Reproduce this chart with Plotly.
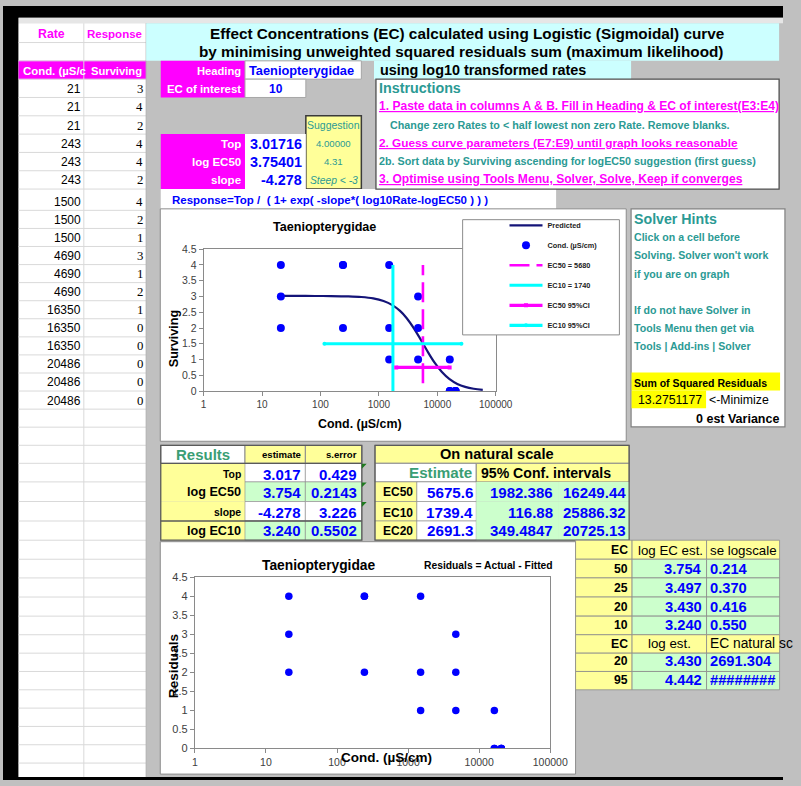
import plotly.graph_objects as go

W, H = 801, 786
SANS = "Liberation Sans, Arial, sans-serif"
SERIF = "Liberation Serif, Times New Roman, serif"

# ---- worksheet data: columns A and B ----
rate = [21, 21, 21, 243, 243, 243, 1500, 1500, 1500,
        4690, 4690, 4690, 16350, 16350, 16350, 20486, 20486, 20486]
surviving = [3, 4, 2, 4, 4, 2, 4, 2, 1, 3, 1, 2, 1, 0, 0, 0, 0, 0]

# ---- fitted logistic curve (Predicted series) ----
pred_rate = [21, 40, 80, 150, 300, 500, 800, 1200, 1700, 2300, 3000, 4000,
             5000, 5676, 7000, 9000, 12000, 16000, 22000, 30000, 42000, 60000]
pred_resp = [3.017, 3.017, 3.016, 3.014, 3.004, 2.984, 2.940, 2.858, 2.727,
             2.542, 2.311, 1.982, 1.685, 1.509, 1.219, 0.900, 0.601, 0.384,
             0.225, 0.131, 0.072, 0.037]

# ---- effect concentration markers ----
ec50_x = [5675.6, 5675.6]
ec50_y = [0.25, 4.0]
ec10_x = [1739.4, 1739.4]
ec10_y = [0, 4]
ec50_ci_x = [1982.386, 16249.44]
ec50_ci_y = [0.75, 0.75]
ec10_ci_x = [116.88, 25886.32]
ec10_ci_y = [1.5, 1.5]

# ---- residual chart series ----
resid_rate = rate
resid_vals = [3, 4, 2, 4, 4, 2, 4, 2, 1, 3, 1, 2, 1, 0, 0, 0, 0, 0]

# ---- tick labels ----
x_tickvals = [1, 10, 100, 1000, 10000, 100000]
x_ticktext = ["1", "10", "100", "1000", "10000", "100000"]
y_tickvals = [0, 0.5, 1, 1.5, 2, 2.5, 3, 3.5, 4, 4.5]
y_ticktext = ["0", "0.5", "1", "1.5", "2", "2.5", "3", "3.5", "4", "4.5"]

# ---- result tables ----
param_labels = ["Top", "log EC50", "slope"]
param_values = ["3.01716", "3.75401", "-4.278"]
suggestions = ["4.00000", "4.31", "Steep &lt; -3"]
res_labels = ["Top", "log EC50", "slope", "log EC10"]
res_est = ["3.017", "3.754", "-4.278", "3.240"]
res_se = ["0.429", "0.2143", "3.226", "0.5502"]
nat_labels = ["EC50", "EC10", "EC20"]
nat_est = ["5675.6", "1739.4", "2691.3"]
nat_lo = ["1982.386", "116.88", "349.4847"]
nat_hi = ["16249.44", "25886.32", "20725.13"]
ec_levels = ["50", "25", "20", "10"]
ec_log_est = ["3.754", "3.497", "3.430", "3.240"]
ec_se_log = ["0.214", "0.370", "0.416", "0.550"]
ec_levels2 = ["20", "95"]
ec_log_est2 = ["3.430", "4.442"]
ec_natural2 = ["2691.304", "########"]

MAGENTA = "#ff00ff"
CYAN = "#00ffff"
BLUE = "#0000ff"
NAVY = "#141478"
TEAL = "#2b9a94"
GREEN_T = "#3a9e74"
LYELLOW = "#ffff99"
LGREEN = "#ccffcc"
LCYAN = "#ccffff"
GRID = "#d9d9d9"
CELL = "#8c8c8c"

shapes = []
annotations = []


def rect(x0, y0, x1, y1, fill, line=None, width=1, layer="below"):
    shapes.append(dict(type="rect", xref="paper", yref="paper",
                       x0=x0 / W, x1=x1 / W, y0=1 - y1 / H, y1=1 - y0 / H,
                       fillcolor=fill,
                       line=dict(color=line if line else "rgba(0,0,0,0)",
                                 width=width if line else 0),
                       layer=layer))


def seg(x0, y0, x1, y1, color, width=1, layer="below"):
    shapes.append(dict(type="line", xref="paper", yref="paper",
                       x0=x0 / W, x1=x1 / W, y0=1 - y0 / H, y1=1 - y1 / H,
                       line=dict(color=color, width=width), layer=layer))


def text(x, y, s, size=12, color="black", anchor="left", bold=False,
         italic=False, family=SANS, underline=False, angle=0):
    if bold:
        s = "<b>" + s + "</b>"
    if italic:
        s = "<i>" + s + "</i>"
    font = dict(family=family, size=size, color=color)
    if underline:
        font["lineposition"] = "under"
    annotations.append(dict(xref="paper", yref="paper", x=x / W, y=1 - y / H,
                            text=s, showarrow=False, xanchor=anchor,
                            yanchor="middle", font=font, textangle=angle))


# ---- sheet frame ----
rect(0, 0, W, 12, "black")
rect(0, 0, 16, H, "black")
rect(0, 783, W, H, "black")
rect(16, 12, W, 17.5, "#e6e6e6")

# row boundaries of the sheet grid
row_y = [18.5, 37.1, 55.7, 74.3, 92.9, 111.5, 130.1, 148.7, 167.3, 185.9,
         207.5, 225.9, 244.2, 262.6, 280.9, 299.3, 317.6, 336.0, 354.3, 372.7,
         391.0, 409.4, 427.7, 446.1, 464.4, 483.3, 503.2, 523.0, 542.5, 561.8,
         580.8, 600.2, 619.6, 638.5, 657.2, 675.8, 694.4, 713.0, 731.6, 750.2,
         768.8, 783]

# columns A & B
rect(16, 17.5, 147, 783, "white")
rect(16, row_y[2], 147, row_y[3], MAGENTA)
for y in row_y[1:-1]:
    seg(16, y, 147, y, GRID)
seg(83, 17.5, 83, 783, GRID)
seg(147, 17.5, 147, 783, "#b0b0b0")

text(49.5, 28.4, "Rate", 12.3, MAGENTA, "center", bold=True)
text(114.5, 28.4, "Response", 11.5, MAGENTA, "center", bold=True)
text(18, 65.6, "Cond. (µS/c", 11.4, "white", "left", bold=True)
text(117, 65.6, "Surviving", 11.2, "white", "center", bold=True)
for i, (r, s) in enumerate(zip(rate, surviving)):
    yb = row_y[i + 4] - 8.7
    text(82, yb, str(r), 12, "black", "right")
    text(146, yb, str(s), 12.8, "black", "right", family=SERIF)

# ---- title banner ----
rect(147, 17.5, 797, 55.7, LCYAN)
text(476, 28.4, "Effect Concentrations (EC) calculated using Logistic (Sigmoidal) curve",
     15.3, "black", "center", bold=True)
text(470, 46.7, "by minimising unweighted squared residuals sum (maximum likelihood)",
     15.3, "black", "center", bold=True)
rect(381, 55.7, 645, 74.3, LCYAN)
text(385, 65, "using log10 transformed rates", 14.4, "black", "left", bold=True)

# ---- heading / parameters ----
rect(162, 55.7, 248.5, 92.9, MAGENTA)
rect(248.5, 55.7, 368, 74.3, "white", "#a6a6a6")
rect(248.5, 74.3, 311, 92.9, "white", "#a6a6a6")
text(246, 66, "Heading", 11.2, "white", "right", bold=True)
text(246, 84.3, "EC of interest", 11.4, "white", "right", bold=True)
text(251, 66, "Taeniopterygidae", 12.8, BLUE, "left", bold=True)
text(280, 84.3, "10", 12, BLUE, "center", bold=True)

rect(311, 111.5, 368, 185.9, LYELLOW, "#3a3a3a", 1.5)
text(339.5, 121, "Suggestion", 10.5, TEAL, "center")
rect(162, 130.1, 248.5, 185.9, MAGENTA)
rect(248.5, 130.1, 311, 185.9, "white")
for i, yc in enumerate([140, 158.3, 176.7]):
    text(246, yc, param_labels[i], 11.5, "white", "right", bold=True)
    text(309, yc, param_values[i], 14.4, BLUE, "right", bold=True)
    text(339.5, yc, suggestions[i], 9.6 if i < 2 else 10.3, TEAL, "center",
         italic=(i == 2))

rect(162, 185.9, 568, 207, "white")
text(172, 197.5,
     "Response=Top /&nbsp; ( 1+ exp( -slope*( log10Rate-logEC50 ) ) )",
     11.5, BLUE, "left", bold=True)

# ---- instructions ----
rect(383, 74.3, 797, 185.9, "white", "#505050", 1.3)
text(384, 83.5, "Instructions", 14.3, TEAL, "left", bold=True)
text(384, 101.7,
     "1. Paste data in columns A &amp; B. Fill in Heading &amp; EC of interest(E3:E4)",
     12.05, MAGENTA, "left", bold=True, underline=True)
text(395, 120.7,
     "Change zero Rates to &lt; half lowest non zero Rate. Remove blanks.",
     10.75, TEAL, "left", bold=True)
text(384, 139.3,
     "2. Guess curve parameters (E7:E9) until graph looks reasonable",
     11.8, MAGENTA, "left", bold=True, underline=True)
text(384, 157.3,
     "2b. Sort data by Surviving ascending for logEC50 suggestion (first guess)",
     10.75, TEAL, "left", bold=True)
text(384, 176,
     "3. Optimise using Tools Menu, Solver, Solve, Keep if converges",
     12.1, MAGENTA, "left", bold=True, underline=True)

# ---- solver hints ----
rect(645, 206, 803, 427.5, "white", "#808080", 1.2)
text(646, 216, "Solver Hints", 14.2, TEAL, "left", bold=True)
for yc, line in zip([234.7, 253.3, 271.7, 308.3, 326.7, 345],
                    ["Click on a cell before", "Solving. Solver won't work",
                     "if you are on graph", "If do not have Solver in",
                     "Tools Menu then get via", "Tools | Add-ins | Solver"]):
    text(646, yc, line, 10.6, TEAL, "left", bold=True)
rect(645.5, 372.3, 798, 390.5, "#ffff00")
rect(645.5, 390.5, 722, 408.5, "#ffff00")
text(646, 382.5, "Sum of Squared Residuals", 10.5, "black", "left", bold=True)
text(650, 400.5, "13.2751177", 12.3, "black", "left")
text(723, 400.5, "&lt;-Minimize", 12.3, "black", "left")
text(799, 419.3, "0 est Variance", 12.5, "black", "right", bold=True)

# ---- chart boxes ----
rect(161.5, 206, 640, 442, "white", "#8c8c8c", 1)
rect(161.5, 544, 588, 780, "white", "#8c8c8c", 1)

# ---- Results table ----
rc = [162, 248.5, 310.5, 368.5]
rr = row_y[23:29]
rect(rc[0], rr[0], rc[1], rr[1], "white", CELL)
rect(rc[1], rr[0], rc[2], rr[1], LYELLOW, CELL)
rect(rc[2], rr[0], rc[3], rr[1], LYELLOW, CELL)
for i in range(4):
    fill = LGREEN if i % 2 == 1 else "white"
    rect(rc[0], rr[i + 1], rc[1], rr[i + 2], LYELLOW, None)
    rect(rc[1], rr[i + 1], rc[2], rr[i + 2], fill, CELL, 0.6)
    rect(rc[2], rr[i + 1], rc[3], rr[i + 2], fill, CELL, 0.6)
rect(rc[0], rr[0], rc[3], rr[5], "rgba(0,0,0,0)", "#5a5a5a", 1.3)
seg(rc[0], rr[1], rc[3], rr[1], "#5a5a5a", 1.3)
seg(rc[0], rr[4], rc[3], rr[4], "#5a5a5a", 1.3)
text(205, 455, "Results", 15, GREEN_T, "center", bold=True)
text(308, 455.5, "estimate", 9.6, "black", "right", bold=True)
text(366, 455.5, "s.error", 9.6, "black", "right", bold=True)
for i, yc in enumerate([476, 494, 514.5, 533]):
    big = res_labels[i].startswith("log")
    text(246, yc, res_labels[i], 12.6 if big else 10.4, "black", "right", bold=True)
    text(308.5, yc, res_est[i], 15, BLUE, "right", bold=True)
    text(366, yc, res_se[i], 15, BLUE, "right", bold=True)
for yt in [rr[1], rr[2], rr[3]]:
    shapes.append(dict(type="path", xref="paper", yref="paper",
                       path="M {} {} L {} {} L {} {} Z".format(
                           368.5 / W, 1 - (yt + 0.5) / H,
                           373.5 / W, 1 - (yt + 0.5) / H,
                           368.5 / W, 1 - (yt + 5.5) / H),
                       fillcolor="#1f7a1f", line=dict(width=0), layer="above"))

# ---- natural scale table ----
nc = [382, 425, 486, 570, 643]
rect(nc[0], rr[0], nc[4], rr[1], LYELLOW, CELL)
rect(nc[0], rr[1], nc[2], rr[2], "white", CELL)
rect(nc[2], rr[1], nc[4], rr[2], LYELLOW, CELL)
for i in range(3):
    rect(nc[0], rr[i + 2], nc[1], rr[i + 3], LYELLOW, CELL, 0.6)
    rect(nc[1], rr[i + 2], nc[2], rr[i + 3], "white", CELL, 0.6)
    rect(nc[2], rr[i + 2], nc[3], rr[i + 3], LGREEN, None)
    rect(nc[3], rr[i + 2], nc[4], rr[i + 3], LGREEN, None)
rect(nc[0], rr[0], nc[4], rr[5], "rgba(0,0,0,0)", "#5a5a5a", 1.3)
text(507, 455, "On natural scale", 14.6, "black", "center", bold=True)
text(484, 474, "Estimate", 15.2, GREEN_T, "right", bold=True)
text(489, 474, "95% Conf. intervals", 14.1, "black", "left", bold=True)
for i, yc in enumerate([494, 514.5, 533]):
    text(423, yc, nat_labels[i], 12, "black", "right", bold=True)
    text(485, yc, nat_est[i], 15.2, BLUE, "right", bold=True)
    text(567, yc, nat_lo[i], 15, BLUE, "right", bold=True)
    text(642, yc, nat_hi[i], 15, BLUE, "right", bold=True)

# ---- EC table ----
ec_c = [588, 646, 722.5, 797.5]
er = row_y[28:37]
for j in range(8):
    header = j in (0, 5)
    rect(ec_c[0], er[j], ec_c[1], er[j + 1], LYELLOW, CELL, 0.8)
    rect(ec_c[1], er[j], ec_c[2], er[j + 1], LYELLOW if header else LGREEN, CELL, 0.8)
    rect(ec_c[2], er[j], ec_c[3], er[j + 1], LYELLOW if header else LGREEN, CELL, 0.8)
ec_yc = [552.5, 572, 591, 610, 629, 647.5, 665.5, 684.5]
text(644, ec_yc[0], "EC", 12.2, "black", "right", bold=True)
text(685, ec_yc[0], "log EC est.", 13.3, "black", "center")
text(760, ec_yc[0], "se logscale", 13.3, "black", "center")
for i in range(4):
    text(644, ec_yc[i + 1], ec_levels[i], 12.2, "black", "right", bold=True)
    text(720, ec_yc[i + 1], ec_log_est[i], 14.7, BLUE, "right", bold=True)
    text(724, ec_yc[i + 1], ec_se_log[i], 14.7, BLUE, "left", bold=True)
text(644, ec_yc[5], "EC", 12.2, "black", "right", bold=True)
text(684, ec_yc[5], "log est.", 13.3, "black", "center")
text(724, ec_yc[5], "EC natural sc", 13.8, "black", "left")
for i in range(2):
    text(644, ec_yc[6 + i], ec_levels2[i], 12.2, "black", "right", bold=True)
    text(720, ec_yc[6 + i], ec_log_est2[i], 14.7, BLUE, "right", bold=True)
    text(724, ec_yc[6 + i], ec_natural2[i], 14.7, BLUE, "left", bold=True)

# ---- chart titles ----
text(330, 224, "Taeniopterygidae", 12.6, "black", "center", bold=True)
text(367, 424, "Cond. (µS/cm)", 12.4, "black", "center", bold=True)
text(175, 338, "Surviving", 12.6, "black", "center", bold=True, angle=-90)
text(324.5, 568.3, "Taeniopterygidae", 13.8, "black", "center", bold=True)
text(498.5, 568.3, "Residuals = Actual - Fitted", 10.3, "black", "center", bold=True)
text(393.5, 763, "Cond. (µS/cm)", 13.5, "black", "center", bold=True)
text(175, 670, "Residuals", 13.6, "black", "center", bold=True, angle=-90)

# legend frame
rect(472, 217, 633, 334, "white", "#8c8c8c", 1, layer="above")

fig = go.Figure()
fig.add_trace(go.Scatter(x=pred_rate, y=pred_resp, mode="lines", name="<b>Predicted</b>",
                         legendgroup="g1",
                         line=dict(color=NAVY, width=2.2, shape="spline")))
fig.add_trace(go.Scatter(x=rate, y=surviving, mode="markers", name="<b>Cond. (µS/cm)</b>",
                         legendgroup="g2",
                         marker=dict(color=BLUE, size=8)))
fig.add_trace(go.Scatter(x=ec50_x, y=ec50_y, mode="lines", name="<b>EC50 = 5680</b>",
                         legendgroup="g3",
                         line=dict(color=MAGENTA, width=2.6, dash="20px,7px")))
fig.add_trace(go.Scatter(x=ec10_x, y=ec10_y, mode="lines", name="<b>EC10 = 1740</b>",
                         legendgroup="g4",
                         line=dict(color=CYAN, width=3)))
fig.add_trace(go.Scatter(x=ec50_ci_x, y=ec50_ci_y, mode="lines+markers", name="<b>EC50 95%CI</b>",
                         legendgroup="g5",
                         line=dict(color=MAGENTA, width=3.2),
                         marker=dict(color=MAGENTA, size=4, symbol="square")))
fig.add_trace(go.Scatter(x=ec10_ci_x, y=ec10_ci_y, mode="lines+markers", name="<b>EC10 95%CI</b>",
                         legendgroup="g6",
                         line=dict(color=CYAN, width=3.2),
                         marker=dict(color=CYAN, size=4, symbol="circle")))
fig.add_trace(go.Scatter(x=resid_rate, y=resid_vals, mode="markers", showlegend=False,
                         marker=dict(color=BLUE, size=7.5), xaxis="x2", yaxis="y2"))

axis_common = dict(showgrid=False, zeroline=False, showline=True, linecolor="#8a8a8a",
                   linewidth=1, mirror=True, ticks="outside", ticklen=4,
                   tickcolor="#8a8a8a")

fig.update_layout(
    width=W, height=H, margin=dict(l=0, r=0, t=0, b=0),
    paper_bgcolor="#c0c0c0", plot_bgcolor="white",
    xaxis=dict(type="log", range=[0, 5], domain=[206 / W, 506 / W],
               tickvals=x_tickvals, ticktext=x_ticktext, anchor="y",
               tickfont=dict(family=SANS, size=10, color="#404040"), **axis_common),
    yaxis=dict(range=[0, 4.5], domain=[1 - 391 / H, 1 - 247 / H],
               tickvals=y_tickvals, ticktext=y_ticktext, anchor="x",
               tickfont=dict(family=SANS, size=10.5, color="#404040"), **axis_common),
    xaxis2=dict(type="log", range=[0, 5], domain=[197 / W, 562 / W],
                tickvals=x_tickvals, ticktext=x_ticktext, anchor="y2",
                tickfont=dict(family=SANS, size=10.5, color="#404040"), **axis_common),
    yaxis2=dict(range=[0, 4.5], domain=[1 - 754 / H, 1 - 580 / H],
                tickvals=y_tickvals, ticktext=y_ticktext, anchor="x2",
                tickfont=dict(family=SANS, size=11, color="#404040"), **axis_common),
    showlegend=True,
    legend=dict(x=515 / W, y=1 - 208 / H, xanchor="left", yanchor="top",
                bgcolor="rgba(0,0,0,0)", borderwidth=0, itemwidth=33,
                font=dict(family=SANS, size=7.3, color="#222222"),
                traceorder="grouped", tracegroupgap=1),
    shapes=shapes,
    annotations=annotations,
)

fig.write_html("out.html")
